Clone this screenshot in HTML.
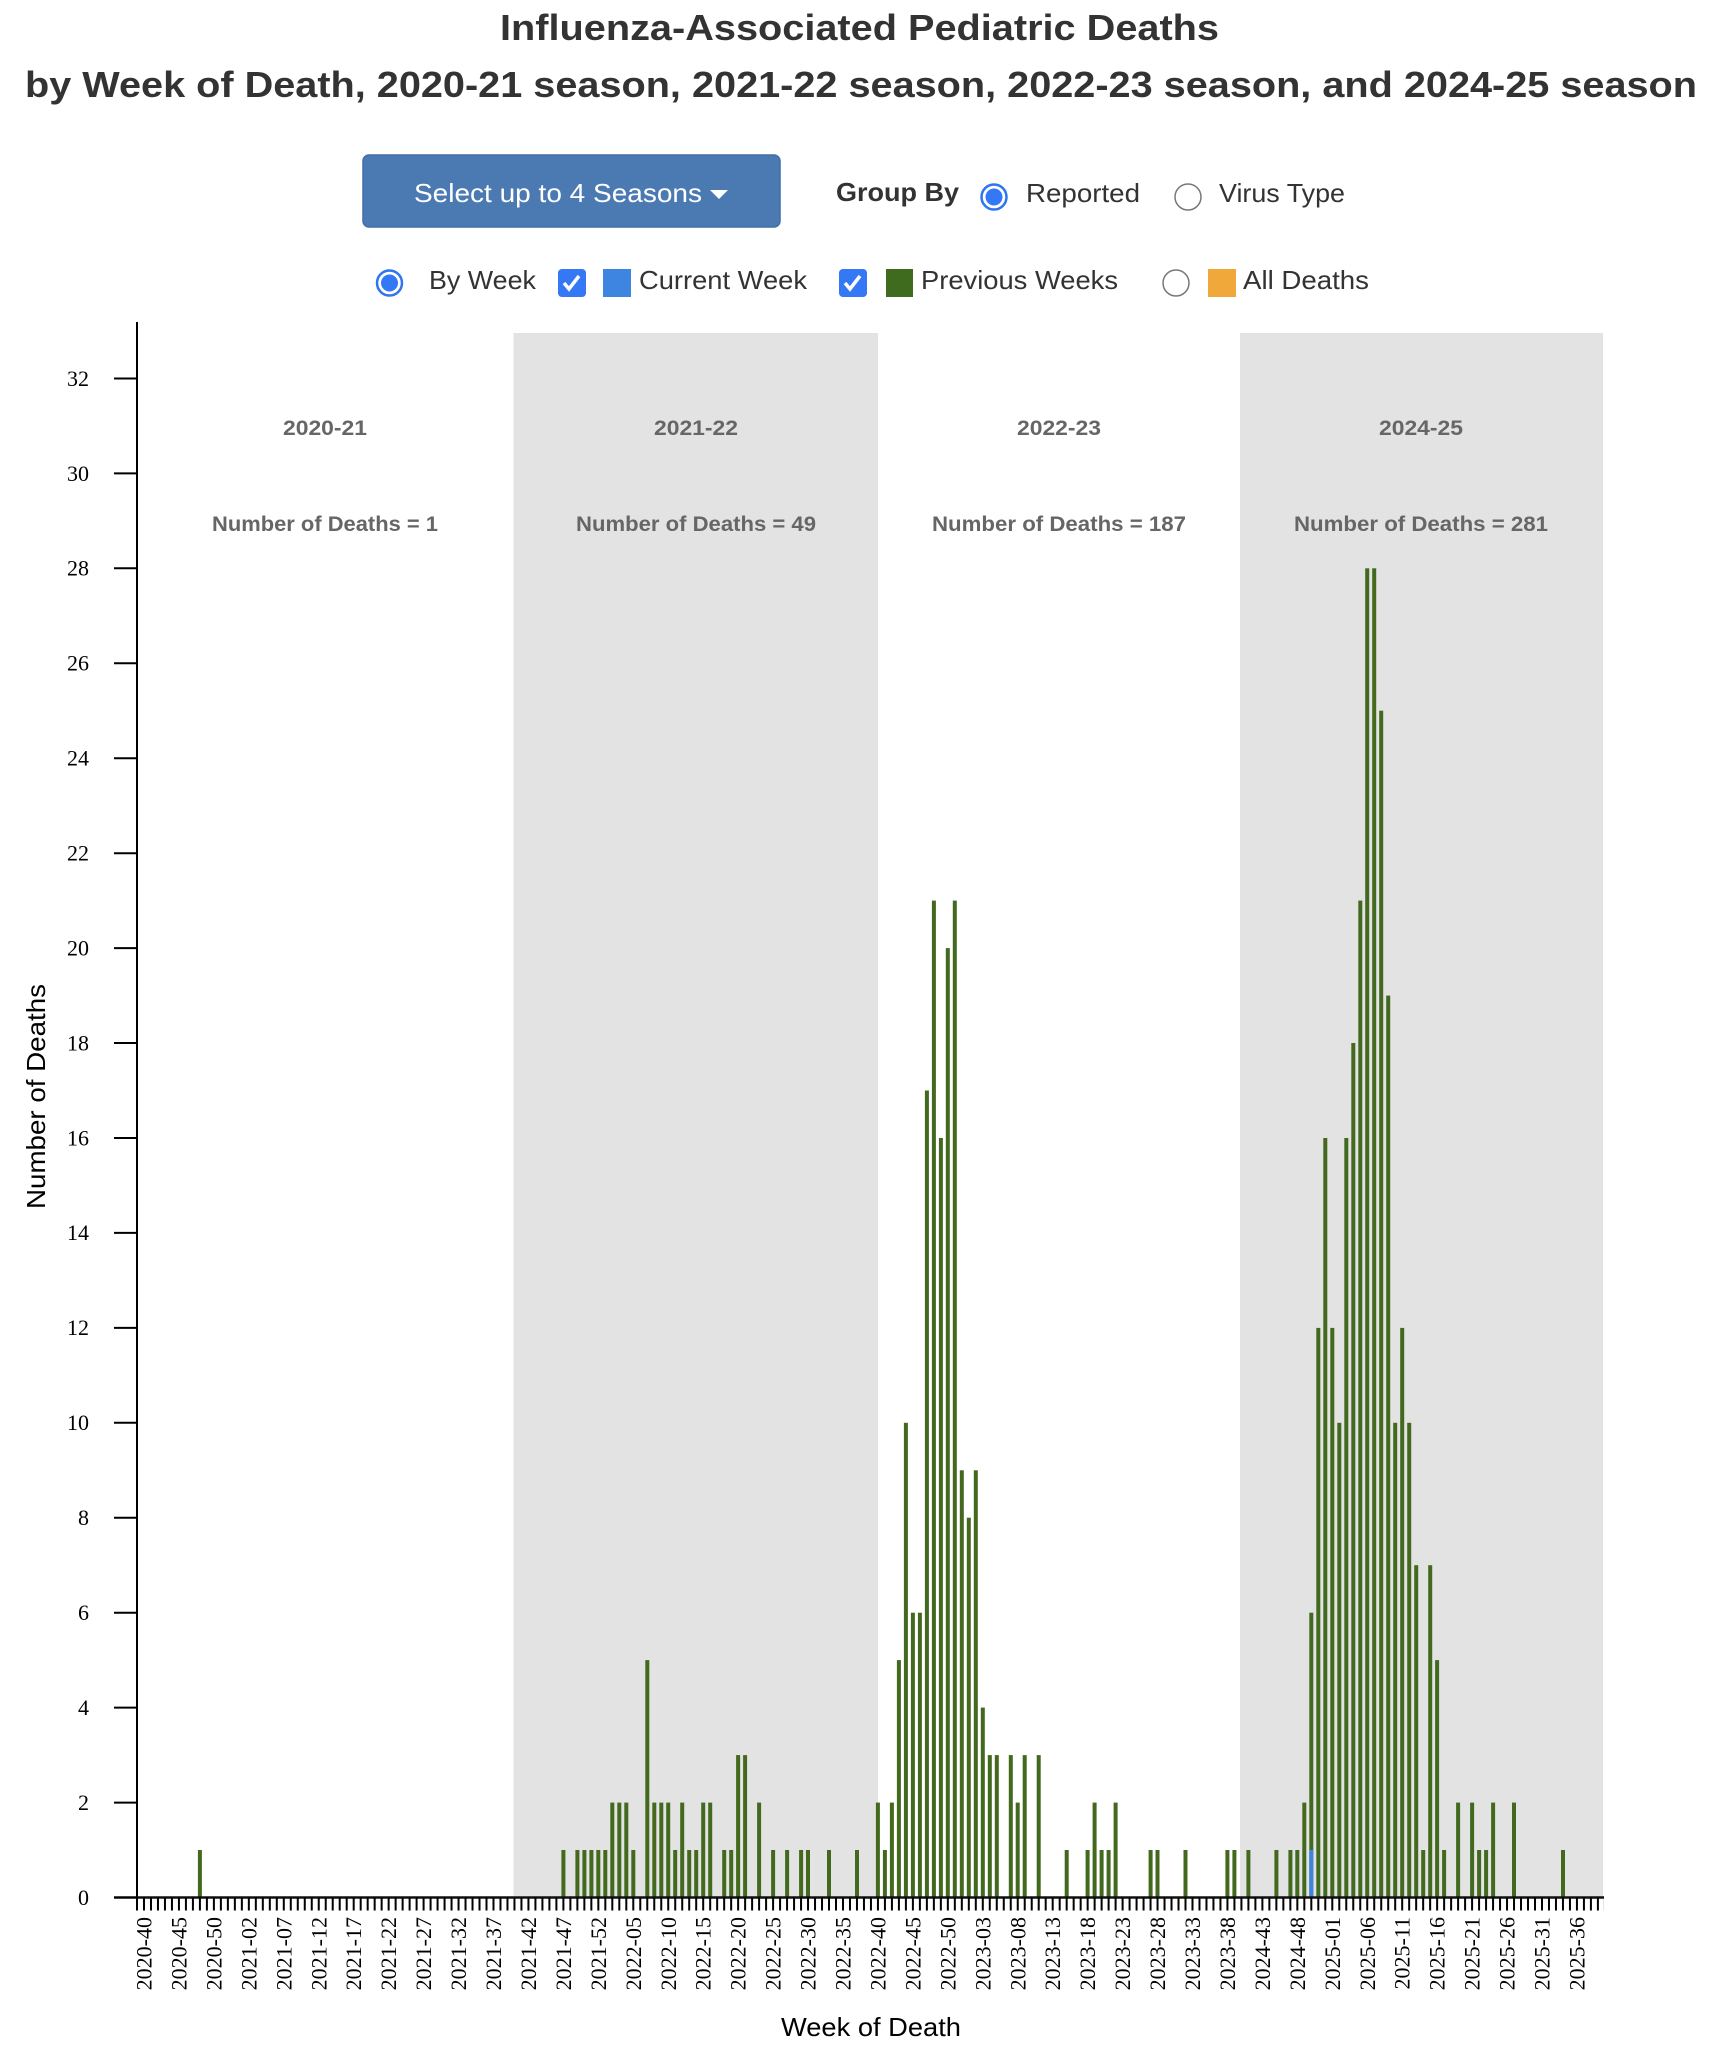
<!DOCTYPE html>
<html><head><meta charset="utf-8"><style>html,body{margin:0;padding:0;background:#fff}svg{display:block}</style></head>
<body>
<svg width="1720" height="2058" viewBox="0 0 1720 2058" xmlns="http://www.w3.org/2000/svg">
<rect width="1720" height="2058" fill="#fff"/>
<g font-family="Liberation Sans, Arial, sans-serif" fill="#333" font-weight="bold">
<text x="500" y="40" font-size="36" textLength="719" lengthAdjust="spacingAndGlyphs">Influenza-Associated Pediatric Deaths</text>
<text x="25" y="97" font-size="36" textLength="1672" lengthAdjust="spacingAndGlyphs">by Week of Death, 2020-21 season, 2021-22 season, 2022-23 season, and 2024-25 season</text>
</g>
<!-- controls -->
<rect x="363" y="155" width="417" height="72" rx="6" fill="#4a7ab1" stroke="#3f6fa6" stroke-width="1.5"/>
<text x="414" y="202" font-family="Liberation Sans, Arial, sans-serif" font-size="26" fill="#fff" textLength="288" lengthAdjust="spacingAndGlyphs">Select up to 4 Seasons</text>
<polygon points="710,190 728,190 719,199" fill="#fff"/>
<g font-family="Liberation Sans, Arial, sans-serif" font-size="26" fill="#333">
<text x="836" y="201" font-weight="bold" textLength="123" lengthAdjust="spacingAndGlyphs">Group By</text>
<circle cx="994" cy="197" r="12.5" fill="#fff" stroke="#2f74f0" stroke-width="2.5"/><circle cx="994" cy="197" r="8.5" fill="#3478f6"/>
<text x="1026" y="202" textLength="114" lengthAdjust="spacingAndGlyphs">Reported</text>
<circle cx="1188" cy="197" r="13" fill="#fff" stroke="#777" stroke-width="1.5"/>
<text x="1219" y="202" textLength="126" lengthAdjust="spacingAndGlyphs">Virus Type</text>
<circle cx="389.5" cy="283" r="12.5" fill="#fff" stroke="#2f74f0" stroke-width="2.5"/><circle cx="389.5" cy="283" r="8.5" fill="#3478f6"/>
<text x="429" y="289" textLength="107" lengthAdjust="spacingAndGlyphs">By Week</text>
<rect x="558" y="269" width="28" height="28" rx="4" fill="#3478f6"/>
<path d="M564 283 l5 6 l10 -13" fill="none" stroke="#fff" stroke-width="3.5"/>
<rect x="603" y="269" width="28" height="28" fill="#3d85e0"/>
<text x="639" y="289" textLength="168" lengthAdjust="spacingAndGlyphs">Current Week</text>
<rect x="839" y="269" width="28" height="28" rx="4" fill="#3478f6"/>
<path d="M845 283 l5 6 l10 -13" fill="none" stroke="#fff" stroke-width="3.5"/>
<rect x="886" y="269" width="27" height="28" fill="#3f6b1f"/>
<text x="921" y="289" textLength="197" lengthAdjust="spacingAndGlyphs">Previous Weeks</text>
<circle cx="1176" cy="283" r="13" fill="#fff" stroke="#777" stroke-width="1.5"/>
<rect x="1208" y="269" width="28" height="28" fill="#f0a83a"/>
<text x="1243" y="289" textLength="126" lengthAdjust="spacingAndGlyphs">All Deaths</text>
</g>
<!-- bands -->
<rect x="513.5" y="333" width="364.5" height="1564.5" fill="#e3e3e3"/>
<rect x="1240" y="333" width="363" height="1564.5" fill="#e3e3e3"/>
<!-- season labels -->
<g font-family="Liberation Sans, Arial, sans-serif" font-size="21" font-weight="bold" fill="#666" text-anchor="middle">
<text x="325" y="435" textLength="84" lengthAdjust="spacingAndGlyphs">2020-21</text>
<text x="696" y="435" textLength="84" lengthAdjust="spacingAndGlyphs">2021-22</text>
<text x="1059" y="435" textLength="84" lengthAdjust="spacingAndGlyphs">2022-23</text>
<text x="1421" y="435" textLength="84" lengthAdjust="spacingAndGlyphs">2024-25</text>
<text x="325" y="531" textLength="226" lengthAdjust="spacingAndGlyphs">Number of Deaths = 1</text>
<text x="696" y="531" textLength="240" lengthAdjust="spacingAndGlyphs">Number of Deaths = 49</text>
<text x="1059" y="531" textLength="254" lengthAdjust="spacingAndGlyphs">Number of Deaths = 187</text>
<text x="1421" y="531" textLength="254" lengthAdjust="spacingAndGlyphs">Number of Deaths = 281</text>
</g>
<!-- bars -->
<g transform="translate(0,1897.5) scale(1,-1)" fill="#43691f">
<rect x="197.9" y="0" width="4" height="47.5"/>
<rect x="561.4" y="0" width="4" height="47.5"/>
<rect x="575.4" y="0" width="4" height="47.5"/>
<rect x="582.4" y="0" width="4" height="47.5"/>
<rect x="589.4" y="0" width="4" height="47.5"/>
<rect x="596.3" y="0" width="4" height="47.5"/>
<rect x="603.3" y="0" width="4" height="47.5"/>
<rect x="610.3" y="0" width="4" height="94.9"/>
<rect x="617.3" y="0" width="4" height="94.9"/>
<rect x="624.3" y="0" width="4" height="94.9"/>
<rect x="631.3" y="0" width="4" height="47.5"/>
<rect x="645.3" y="0" width="4" height="237.4"/>
<rect x="652.3" y="0" width="4" height="94.9"/>
<rect x="659.3" y="0" width="4" height="94.9"/>
<rect x="666.2" y="0" width="4" height="94.9"/>
<rect x="673.2" y="0" width="4" height="47.5"/>
<rect x="680.2" y="0" width="4" height="94.9"/>
<rect x="687.2" y="0" width="4" height="47.5"/>
<rect x="694.2" y="0" width="4" height="47.5"/>
<rect x="701.2" y="0" width="4" height="94.9"/>
<rect x="708.2" y="0" width="4" height="94.9"/>
<rect x="722.2" y="0" width="4" height="47.5"/>
<rect x="729.2" y="0" width="4" height="47.5"/>
<rect x="736.1" y="0" width="4" height="142.4"/>
<rect x="743.1" y="0" width="4" height="142.4"/>
<rect x="757.1" y="0" width="4" height="94.9"/>
<rect x="771.1" y="0" width="4" height="47.5"/>
<rect x="785.1" y="0" width="4" height="47.5"/>
<rect x="799.1" y="0" width="4" height="47.5"/>
<rect x="806.0" y="0" width="4" height="47.5"/>
<rect x="827.0" y="0" width="4" height="47.5"/>
<rect x="855.0" y="0" width="4" height="47.5"/>
<rect x="875.9" y="0" width="4" height="94.9"/>
<rect x="882.9" y="0" width="4" height="47.5"/>
<rect x="889.9" y="0" width="4" height="94.9"/>
<rect x="896.9" y="0" width="4" height="237.4"/>
<rect x="903.9" y="0" width="4" height="474.7"/>
<rect x="910.9" y="0" width="4" height="284.8"/>
<rect x="917.9" y="0" width="4" height="284.8"/>
<rect x="924.9" y="0" width="4" height="807.0"/>
<rect x="931.9" y="0" width="4" height="996.9"/>
<rect x="938.9" y="0" width="4" height="759.5"/>
<rect x="945.8" y="0" width="4" height="949.4"/>
<rect x="952.8" y="0" width="4" height="996.9"/>
<rect x="959.8" y="0" width="4" height="427.2"/>
<rect x="966.8" y="0" width="4" height="379.8"/>
<rect x="973.8" y="0" width="4" height="427.2"/>
<rect x="980.8" y="0" width="4" height="189.9"/>
<rect x="987.8" y="0" width="4" height="142.4"/>
<rect x="994.8" y="0" width="4" height="142.4"/>
<rect x="1008.8" y="0" width="4" height="142.4"/>
<rect x="1015.7" y="0" width="4" height="94.9"/>
<rect x="1022.7" y="0" width="4" height="142.4"/>
<rect x="1036.7" y="0" width="4" height="142.4"/>
<rect x="1064.7" y="0" width="4" height="47.5"/>
<rect x="1085.6" y="0" width="4" height="47.5"/>
<rect x="1092.6" y="0" width="4" height="94.9"/>
<rect x="1099.6" y="0" width="4" height="47.5"/>
<rect x="1106.6" y="0" width="4" height="47.5"/>
<rect x="1113.6" y="0" width="4" height="94.9"/>
<rect x="1148.6" y="0" width="4" height="47.5"/>
<rect x="1155.5" y="0" width="4" height="47.5"/>
<rect x="1183.5" y="0" width="4" height="47.5"/>
<rect x="1225.4" y="0" width="4" height="47.5"/>
<rect x="1232.4" y="0" width="4" height="47.5"/>
<rect x="1246.4" y="0" width="4" height="47.5"/>
<rect x="1274.4" y="0" width="4" height="47.5"/>
<rect x="1288.4" y="0" width="4" height="47.5"/>
<rect x="1295.3" y="0" width="4" height="47.5"/>
<rect x="1302.3" y="0" width="4" height="94.9"/>
<rect x="1309.3" y="0" width="4" height="284.8"/>
<rect x="1316.3" y="0" width="4" height="569.6"/>
<rect x="1323.3" y="0" width="4" height="759.5"/>
<rect x="1330.3" y="0" width="4" height="569.6"/>
<rect x="1337.3" y="0" width="4" height="474.7"/>
<rect x="1344.3" y="0" width="4" height="759.5"/>
<rect x="1351.3" y="0" width="4" height="854.5"/>
<rect x="1358.3" y="0" width="4" height="996.9"/>
<rect x="1365.2" y="0" width="4" height="1329.2"/>
<rect x="1372.2" y="0" width="4" height="1329.2"/>
<rect x="1379.2" y="0" width="4" height="1186.8"/>
<rect x="1386.2" y="0" width="4" height="901.9"/>
<rect x="1393.2" y="0" width="4" height="474.7"/>
<rect x="1400.2" y="0" width="4" height="569.6"/>
<rect x="1407.2" y="0" width="4" height="474.7"/>
<rect x="1414.2" y="0" width="4" height="332.3"/>
<rect x="1421.2" y="0" width="4" height="47.5"/>
<rect x="1428.2" y="0" width="4" height="332.3"/>
<rect x="1435.1" y="0" width="4" height="237.4"/>
<rect x="1442.1" y="0" width="4" height="47.5"/>
<rect x="1456.1" y="0" width="4" height="94.9"/>
<rect x="1470.1" y="0" width="4" height="94.9"/>
<rect x="1477.1" y="0" width="4" height="47.5"/>
<rect x="1484.1" y="0" width="4" height="47.5"/>
<rect x="1491.1" y="0" width="4" height="94.9"/>
<rect x="1512.0" y="0" width="4" height="94.9"/>
<rect x="1561.0" y="0" width="4" height="47.5"/>
<rect x="1309.3" y="0" width="4" height="47.5" fill="#3d85e0"/>
</g>
<!-- axes -->
<line x1="137" y1="322" x2="137" y2="1898.5" stroke="#000" stroke-width="2"/>
<line x1="114" y1="1897.5" x2="1604" y2="1897.5" stroke="#111" stroke-width="2.5"/>
<line x1="136" y1="1904" x2="1604" y2="1904" stroke="#000" stroke-width="13" stroke-dasharray="2 4.99"/>
<g stroke="#000" stroke-width="2">
<line x1="114" x2="137" y1="1897.5" y2="1897.5"/><line x1="114" x2="137" y1="1802.6" y2="1802.6"/><line x1="114" x2="137" y1="1707.6" y2="1707.6"/><line x1="114" x2="137" y1="1612.7" y2="1612.7"/><line x1="114" x2="137" y1="1517.8" y2="1517.8"/><line x1="114" x2="137" y1="1422.8" y2="1422.8"/><line x1="114" x2="137" y1="1327.9" y2="1327.9"/><line x1="114" x2="137" y1="1232.9" y2="1232.9"/><line x1="114" x2="137" y1="1138" y2="1138"/><line x1="114" x2="137" y1="1043" y2="1043"/><line x1="114" x2="137" y1="948.1" y2="948.1"/><line x1="114" x2="137" y1="853.2" y2="853.2"/><line x1="114" x2="137" y1="758.2" y2="758.2"/><line x1="114" x2="137" y1="663.3" y2="663.3"/><line x1="114" x2="137" y1="568.3" y2="568.3"/><line x1="114" x2="137" y1="473.4" y2="473.4"/><line x1="114" x2="137" y1="378.5" y2="378.5"/>
</g>
<g font-family="Liberation Serif, Times New Roman, serif" font-size="22" fill="#000" text-anchor="end">
<text x="89" y="1905">0</text><text x="89" y="1810">2</text><text x="89" y="1715">4</text><text x="89" y="1620">6</text><text x="89" y="1525">8</text><text x="89" y="1430">10</text><text x="89" y="1335">12</text><text x="89" y="1240">14</text><text x="89" y="1145.5">16</text><text x="89" y="1050.5">18</text><text x="89" y="955.5">20</text><text x="89" y="860.5">22</text><text x="89" y="765.5">24</text><text x="89" y="670.5">26</text><text x="89" y="575.5">28</text><text x="89" y="481">30</text><text x="89" y="386">32</text>
</g>
<g font-family="Liberation Serif, Times New Roman, serif" font-size="22" fill="#000" text-anchor="end">
<text transform="translate(151.5,1917) rotate(-90)">2020-40</text>
<text transform="translate(186.5,1917) rotate(-90)">2020-45</text>
<text transform="translate(221.4,1917) rotate(-90)">2020-50</text>
<text transform="translate(256.4,1917) rotate(-90)">2021-02</text>
<text transform="translate(291.3,1917) rotate(-90)">2021-07</text>
<text transform="translate(326.3,1917) rotate(-90)">2021-12</text>
<text transform="translate(361.2,1917) rotate(-90)">2021-17</text>
<text transform="translate(396.2,1917) rotate(-90)">2021-22</text>
<text transform="translate(431.1,1917) rotate(-90)">2021-27</text>
<text transform="translate(466.1,1917) rotate(-90)">2021-32</text>
<text transform="translate(501,1917) rotate(-90)">2021-37</text>
<text transform="translate(536,1917) rotate(-90)">2021-42</text>
<text transform="translate(570.9,1917) rotate(-90)">2021-47</text>
<text transform="translate(605.9,1917) rotate(-90)">2021-52</text>
<text transform="translate(640.8,1917) rotate(-90)">2022-05</text>
<text transform="translate(675.8,1917) rotate(-90)">2022-10</text>
<text transform="translate(710.7,1917) rotate(-90)">2022-15</text>
<text transform="translate(745.7,1917) rotate(-90)">2022-20</text>
<text transform="translate(780.6,1917) rotate(-90)">2022-25</text>
<text transform="translate(815.6,1917) rotate(-90)">2022-30</text>
<text transform="translate(850.5,1917) rotate(-90)">2022-35</text>
<text transform="translate(885.5,1917) rotate(-90)">2022-40</text>
<text transform="translate(920.4,1917) rotate(-90)">2022-45</text>
<text transform="translate(955.4,1917) rotate(-90)">2022-50</text>
<text transform="translate(990.3,1917) rotate(-90)">2023-03</text>
<text transform="translate(1025.3,1917) rotate(-90)">2023-08</text>
<text transform="translate(1060.2,1917) rotate(-90)">2023-13</text>
<text transform="translate(1095.2,1917) rotate(-90)">2023-18</text>
<text transform="translate(1130.1,1917) rotate(-90)">2023-23</text>
<text transform="translate(1165.1,1917) rotate(-90)">2023-28</text>
<text transform="translate(1200,1917) rotate(-90)">2023-33</text>
<text transform="translate(1235,1917) rotate(-90)">2023-38</text>
<text transform="translate(1269.9,1917) rotate(-90)">2024-43</text>
<text transform="translate(1304.9,1917) rotate(-90)">2024-48</text>
<text transform="translate(1339.8,1917) rotate(-90)">2025-01</text>
<text transform="translate(1374.8,1917) rotate(-90)">2025-06</text>
<text transform="translate(1409.7,1917) rotate(-90)">2025-11</text>
<text transform="translate(1444.7,1917) rotate(-90)">2025-16</text>
<text transform="translate(1479.6,1917) rotate(-90)">2025-21</text>
<text transform="translate(1514.6,1917) rotate(-90)">2025-26</text>
<text transform="translate(1549.5,1917) rotate(-90)">2025-31</text>
<text transform="translate(1584.5,1917) rotate(-90)">2025-36</text>
</g>
<g font-family="Liberation Sans, Arial, sans-serif" font-size="26" fill="#000">
<text x="781" y="2036" textLength="180" lengthAdjust="spacingAndGlyphs">Week of Death</text>
<text transform="translate(45,1096.5) rotate(-90)" text-anchor="middle" textLength="225" lengthAdjust="spacingAndGlyphs">Number of Deaths</text>
</g>
</svg>
</body></html>
